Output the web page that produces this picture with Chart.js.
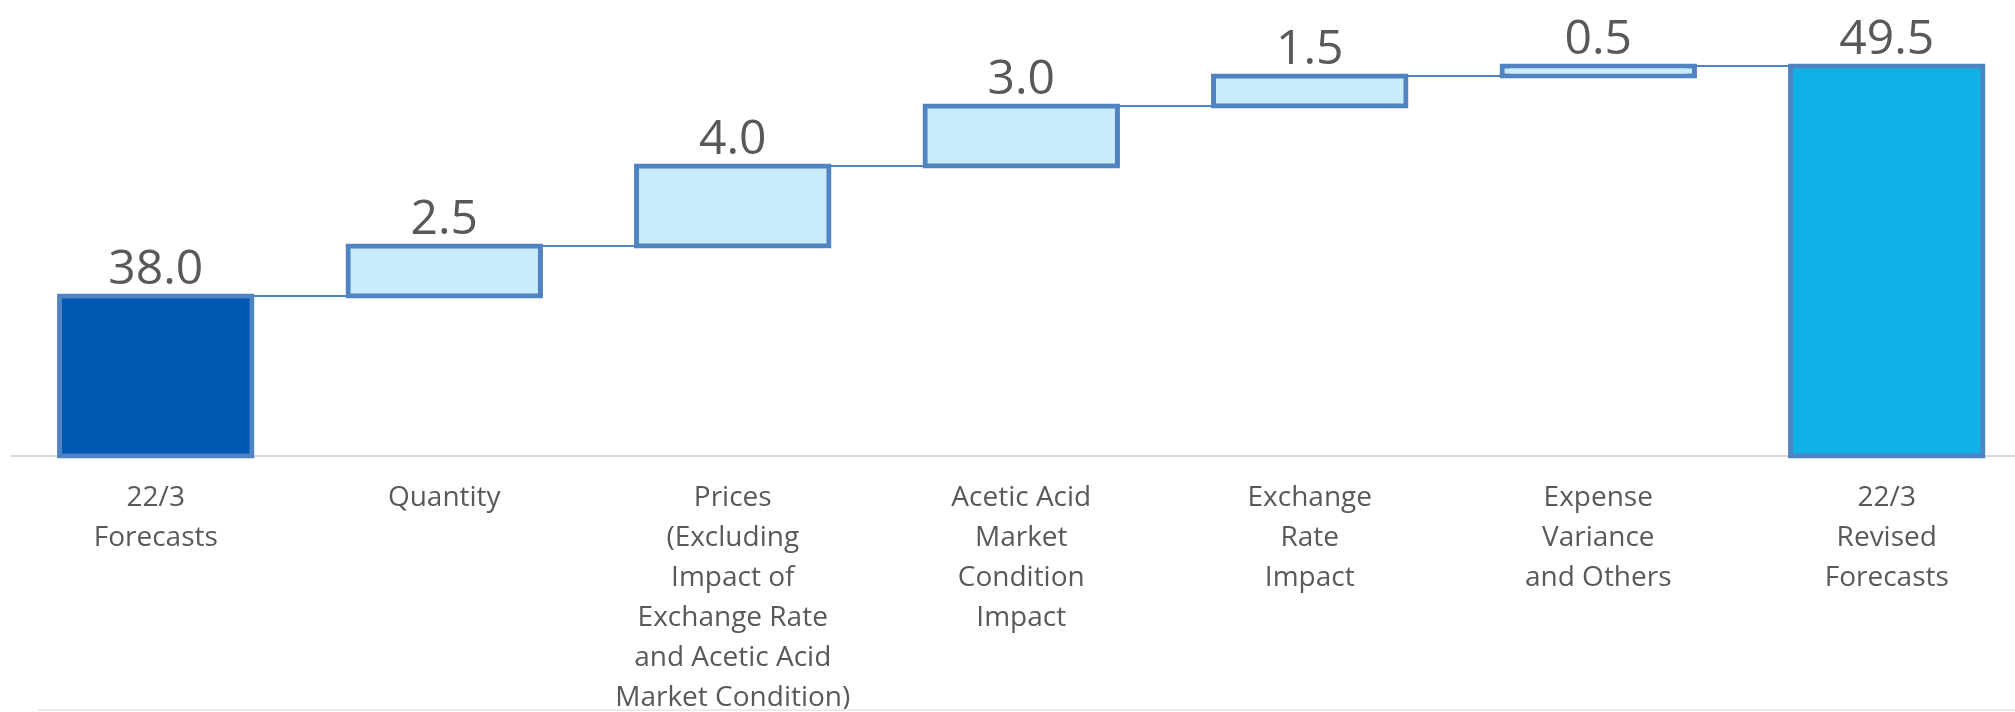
<!DOCTYPE html>
<html><head><meta charset="utf-8">
<script src="https://cdn.jsdelivr.net/npm/chart.js@4"></script>
<style>
html,body{margin:0;padding:0;overflow:hidden;background:#fff;width:2015px;height:712px;}
#wrap{position:absolute;left:0;top:0;width:2040px;height:712px;}
#foot{position:absolute;left:38px;right:0;top:709px;height:0;border-top:2px solid #ececec;}
</style></head><body>
<div id="wrap"><canvas id="c"></canvas></div>
<div id="foot"></div>
<script>
const categories = [
  ["22/3", "Forecasts"],
  ["Quantity"],
  ["Prices", "(Excluding", "Impact of", "Exchange Rate", "and Acetic Acid", "Market Condition)"],
  ["Acetic Acid", "Market", "Condition", "Impact"],
  ["Exchange", "Rate", "Impact"],
  ["Expense", "Variance", "and Others"],
  ["22/3", "Revised", "Forecasts"]
];
const startValue = 38.0;
const changes = [2.5, 4.0, 3.0, 1.5, 0.5];
const endValue = 49.5;
const axisMin = 30;
const axisMax = 52;

// Build floating bars from the values
const bars = [[axisMin, startValue]];
const labels = [startValue];
let run = startValue;
changes.forEach(d => { bars.push([run, run + d]); labels.push(d); run += d; });
bars.push([axisMin, endValue]);
labels.push(endValue);

const fills = bars.map((b, i) => i === 0 ? '#0057B1' : (i === bars.length - 1 ? '#10B1E6' : '#C8EBFD'));

const connectorPlugin = {
  id: 'connectors',
  beforeDatasetsDraw(chart) {
    const meta = chart.getDatasetMeta(0);
    const y = chart.scales.y;
    const ctx = chart.ctx;
    ctx.save();
    ctx.strokeStyle = '#5083C2';
    ctx.lineWidth = 2;
    for (let i = 0; i < meta.data.length - 1; i++) {
      const a = meta.data[i], b = meta.data[i + 1];
      const py = y.getPixelForValue(bars[i][1]);
      ctx.beginPath();
      ctx.moveTo(a.x, py);
      ctx.lineTo(b.x, py);
      ctx.stroke();
    }
    ctx.restore();
  },
  afterDatasetsDraw(chart) {
    const meta = chart.getDatasetMeta(0);
    const y = chart.scales.y;
    const ctx = chart.ctx;
    ctx.save();
    ctx.fillStyle = '#595959';
    ctx.font = '48px "Open Sans"';
    ctx.textAlign = 'center';
    ctx.textBaseline = 'alphabetic';
    meta.data.forEach((el, i) => {
      const py = y.getPixelForValue(bars[i][1]);
      ctx.fillText(labels[i].toFixed(1), el.x, py - 12.5);
    });
    ctx.restore();
  }
};

new Chart(document.getElementById('c'), {
  type: 'bar',
  data: {
    labels: categories,
    datasets: [{
      data: bars,
      backgroundColor: fills,
      borderColor: '#5083C2',
      borderWidth: 5,
      borderSkipped: false,
      inflateAmount: 2.5,
      barPercentage: 0.667,
      categoryPercentage: 1.0,
      clip: false
    }]
  },
  options: {
    responsive: true,
    maintainAspectRatio: false,
    animation: false,
    devicePixelRatio: 1,
    layout: { padding: { left: 11.5, right: 9, top: 16, bottom: 0 } },
    plugins: { legend: { display: false }, tooltip: { enabled: false } },
    scales: {
      x: {
        type: 'category',
        offset: true,
        grid: { display: false, drawTicks: false },
        border: { display: true, color: '#d9d9d9', width: 2 },
        ticks: {
          color: '#595959',
          font: { family: 'Open Sans', size: 28, lineHeight: 40 / 28 },
          padding: 22,
          maxRotation: 0,
          minRotation: 0,
          autoSkip: false
        },
        afterFit(s) { s.height = 256; }
      },
      y: {
        display: false,
        min: axisMin,
        max: axisMax
      }
    }
  },
  plugins: [connectorPlugin]
});
</script>
</body></html>
